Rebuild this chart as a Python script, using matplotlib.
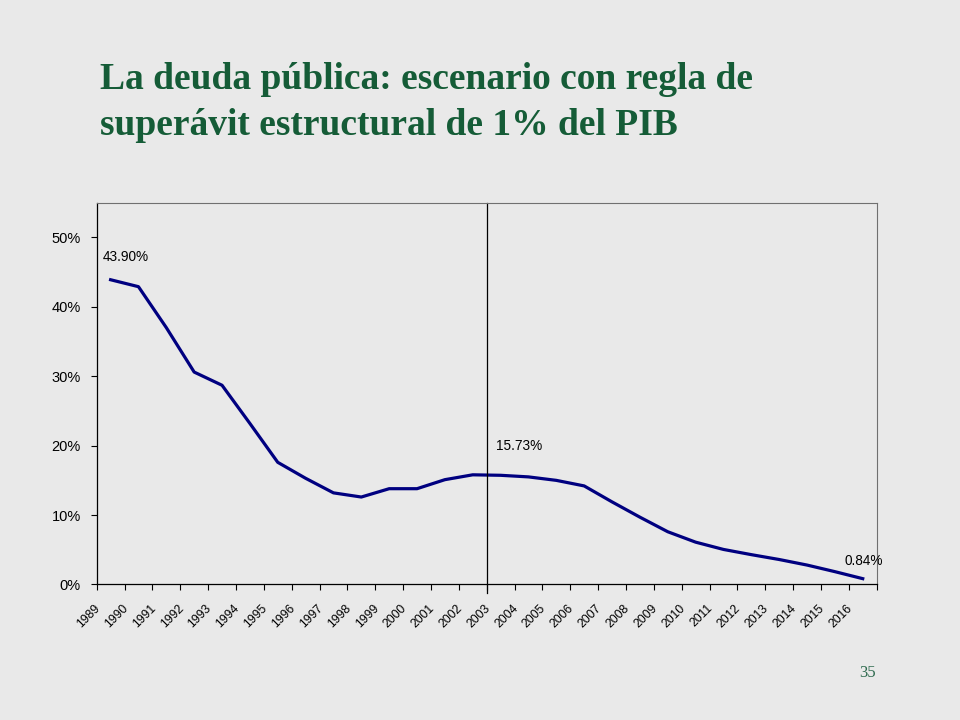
import matplotlib.pyplot as plt
import numpy as np

years = [str(y) for y in range(1989, 2017)]
deuda = [43.9, 42.9, 37.0, 30.6, 28.7, 23.2, 17.6, 15.3, 13.2, 12.6,
         13.8, 13.8, 15.1, 15.8, 15.73, 15.5, 15.0, 14.2, 11.9, 9.7,
         7.6, 6.1, 5.05, 4.3, 3.6, 2.8, 1.85, 0.84]
yticks = [0, 10, 20, 30, 40, 50]
titulo = "La deuda pública: escenario con regla de\nsuperávit estructural de 1% del PIB"
etiquetas = [(0, "43.90%"), (14, "15.73%"), (27, "0.84%")]

bg = '#e9e9e9'
fig = plt.figure(figsize=(9.6, 7.2), dpi=100, facecolor=bg)
ax = fig.add_axes([0.1007, 0.1882, 0.8125, 0.5303])
ax.set_facecolor(bg)

x = np.arange(len(years))
ax.plot(x, deuda, color='#000080', lw=2.3, solid_joinstyle='round')

# linea vertical en 2003 (baja un poco por debajo del eje)
ax.axvline(13.5, ymin=-0.022, ymax=1, color='black', lw=0.9, clip_on=False)

ax.set_xlim(-0.5, len(years) - 0.5)
ax.set_ylim(0, 55)

ax.set_yticks(yticks)
ax.set_yticklabels(["%d%%" % v for v in yticks], fontsize=10.5, family='Liberation Sans')

# ticks en los limites de categoria, etiquetas un poco a la izquierda del centro
ax.set_xticks(np.arange(-0.5, len(years)), labels=[])
ax.set_xticks(x - 0.29, minor=True)
ax.set_xticklabels(years, minor=True, rotation=45, ha='right', va='top',
                   fontsize=8.7, family='Liberation Sans')
ax.tick_params(axis='x', which='minor', length=0, pad=13)
ax.tick_params(axis='x', which='major', length=4, width=0.8, direction='out')
ax.tick_params(axis='y', length=4.5, width=0.8, direction='out', pad=7)

for s in ['left', 'bottom']:
    ax.spines[s].set_color('black')
    ax.spines[s].set_linewidth(0.9)
for s in ['top', 'right']:
    ax.spines[s].set_color('#707070')
    ax.spines[s].set_linewidth(0.8)

# etiquetas de datos
offs = {0: (-0.28, 3.3), 14: (-0.18, 4.2), 27: (-0.65, 2.5)}
for i, txt in etiquetas:
    dx, dy = offs[i]
    ax.text(i + dx, deuda[i] + dy, txt, fontsize=9.8, family='Liberation Sans',
            ha='left', va='center')

fig.text(100 / 960, 1 - 62 / 720, titulo, fontsize=27, fontweight='bold',
         family='Liberation Serif', color='#155c37', ha='left', va='top',
         linespacing=1.4)

fig.text(868 / 960, 1 - 673 / 720, "35", fontsize=12, family='Liberation Serif',
         color='#2f6b4f', ha='center', va='center')

fig.savefig('out.png', dpi=100, facecolor=bg)
